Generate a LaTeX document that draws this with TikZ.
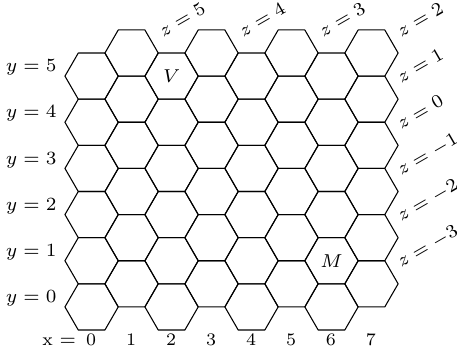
\documentclass[tikz,border=0pt]{standalone}
\begin{document}
\begin{tikzpicture}[x=0.375pt,y=-0.375pt,
  hexline/.style={line width=0.4pt, line join=round},
  lab/.style={font=\fontsize{6.6}{8}\selectfont, inner sep=0pt},
  zlab/.style={lab, rotate=30, anchor=base west},
]
\useasboundingbox (0,0) rectangle (457,352);
\def\R{26.65}
\foreach \i in {0,...,7}{
  \foreach \j in {0,...,5}{
    \pgfmathsetmacro\cx{91.6+39.98*\i}
    \pgfmathsetmacro\cy{306.9-46.16*\j-23.08*mod(\i,2)}
    \draw[hexline] (\cx,\cy) ++(0:\R) -- ++(120:\R) -- ++(180:\R) -- ++(240:\R) -- ++(300:\R) -- ++(0:\R) -- cycle;
  }
}
% y labels
\foreach \j in {0,...,5}{
  \node[lab, anchor=base east] (y\j) at (57, 302.5-46.16*\j) {$y = \j$};
}
% x labels
\node[lab, anchor=base] (x0) at (91.1,345.5) {\llap{x $=$\hspace{3.8pt}}0};
\foreach \i in {1,...,7}{
  \node[lab, anchor=base] (x\i) at (91.1+39.98*\i, 345.5) {\i};
}
% z labels
\node[zlab] (z5) at (163,37.5) {$z = 5$};
\node[zlab] (z4) at (243,37.5) {$z = 4$};
\node[zlab] (z3) at (323,37.5) {$z = 3$};
\node[zlab] (z2) at (401,37.5) {$z = 2$};
\node[zlab] (z1) at (401,83.7) {$z = 1$};
\node[zlab] (z0) at (401,129.8) {$z = 0$};
\node[zlab] (zm1) at (401,176) {$z = -1$};
\node[zlab] (zm2) at (401,222) {$z = -2$};
\node[zlab] (zm3) at (401,268) {$z = -3$};
% cell labels
\node[lab] (V) at (171.6,76.1) {$V$};
\node[lab] (M) at (331.5,260.7) {$M$};
\end{tikzpicture}
\end{document}
